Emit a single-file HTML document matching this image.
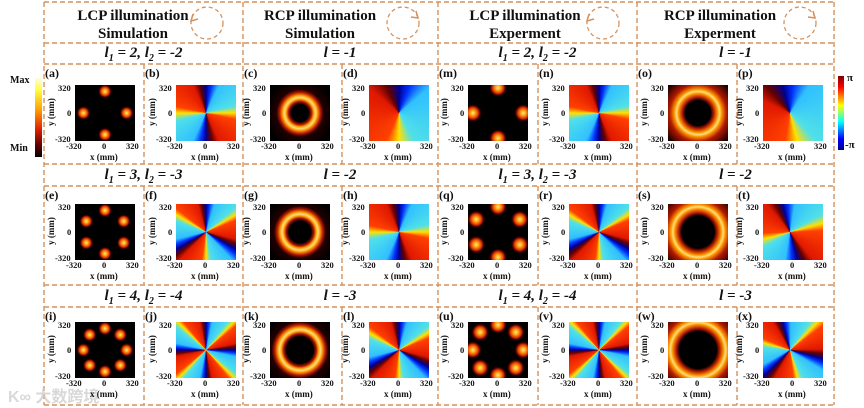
<!DOCTYPE html>
<html><head><meta charset="utf-8">
<style>
body{margin:0;background:#fff;}
#fig{position:relative;width:864px;height:408px;overflow:hidden;background:#fff;font-family:"Liberation Serif",serif;font-weight:bold;color:#111;}
.abs{position:absolute;}
.hdr{font-size:15px;text-align:center;line-height:18px;}
.lab{font-size:15px;text-align:center;font-style:italic;line-height:18px;}
.plab{font-size:12px;}
.tick{font-size:8.5px;}
.axt{font-size:9px;white-space:nowrap;}
.img{background:#000;}
</style></head><body>
<div id="fig">
<svg class="abs" style="left:0;top:0" width="864" height="408">
<g stroke="#d4925e" stroke-width="1.4" stroke-dasharray="5,3" fill="none">
<line x1="44" y1="2" x2="834" y2="2"/><line x1="44" y1="43" x2="834" y2="43"/>
<line x1="44" y1="64" x2="834" y2="64"/><line x1="44" y1="164" x2="834" y2="164"/>
<line x1="44" y1="186" x2="834" y2="186"/><line x1="44" y1="285" x2="834" y2="285"/>
<line x1="44" y1="307" x2="834" y2="307"/><line x1="44" y1="405" x2="834" y2="405"/>
<line x1="44" y1="2" x2="44" y2="405"/><line x1="243" y1="2" x2="243" y2="405"/>
<line x1="438" y1="2" x2="438" y2="405"/><line x1="637" y1="2" x2="637" y2="405"/>
<line x1="834" y1="2" x2="834" y2="405"/>
<line x1="144" y1="64" x2="144" y2="164"/><line x1="342" y1="64" x2="342" y2="164"/><line x1="538" y1="64" x2="538" y2="164"/><line x1="737" y1="64" x2="737" y2="164"/>
<line x1="144" y1="186" x2="144" y2="285"/><line x1="342" y1="186" x2="342" y2="285"/><line x1="538" y1="186" x2="538" y2="285"/><line x1="737" y1="186" x2="737" y2="285"/>
<line x1="144" y1="307" x2="144" y2="405"/><line x1="342" y1="307" x2="342" y2="405"/><line x1="538" y1="307" x2="538" y2="405"/><line x1="737" y1="307" x2="737" y2="405"/>
</g>
<g stroke="#d4925e" stroke-width="1.3" stroke-dasharray="4,3" fill="none">
<circle cx="207" cy="23" r="16"/><circle cx="403" cy="23" r="16"/>
<circle cx="603" cy="23" r="16"/><circle cx="800" cy="23" r="16"/>
</g>
<g stroke="#d4925e" stroke-width="1.5" fill="none">
<path d="M193 14 l-2 7 l7 -2"/><path d="M416 11 l2 7 l-7 -1"/>
<path d="M589 14 l-2 7 l7 -2"/><path d="M813 11 l2 7 l-7 -1"/>
</g>
</svg>
<div class="abs hdr" style="left:58px;top:7px;width:150px">LCP illumination<br>Simulation</div>
<div class="abs hdr" style="left:245px;top:7px;width:150px">RCP illumination<br>Simulation</div>
<div class="abs hdr" style="left:450px;top:7px;width:150px">LCP illumination<br>Experment</div>
<div class="abs hdr" style="left:645px;top:7px;width:150px">RCP illumination<br>Experment</div>

<div class="abs" style="left:35px;top:78px;width:7px;height:79px;background:linear-gradient(#fffbe0,#ffff40 15%,#ffa000 40%,#e02000 65%,#600000 85%,#000)"></div>
<div class="abs" style="left:10px;top:75px;font-size:10px">Max</div>
<div class="abs" style="left:10px;top:143px;font-size:10px">Min</div>
<div class="abs" style="left:838px;top:76px;width:6px;height:74px;background:linear-gradient(#800000,#ff0000 15%,#ffff00 40%,#00ffff 62%,#0000ff 85%,#00008f)"></div>
<div class="abs" style="left:847px;top:72px;font-size:11px">π</div>
<div class="abs" style="left:845px;top:139px;font-size:11px">-π</div>
<div class="abs" style="left:8px;top:383px;font-size:16px;color:rgba(200,200,200,0.7);font-family:'Liberation Sans','Noto Sans CJK SC',sans-serif">K∞ 大数跨境</div>
</div>
<script>
const rowLabels=[["l","1","= 2, ","l","2","= -2"],["l","1","= 3, ","l","2","= -3"],["l","1","= 4, ","l","2","= -4"]];
const rcpLabels=["-1","-2","-3"];
const letters=[["a","b","c","d","m","n","o","p"],["e","f","g","h","q","r","s","t"],["i","j","k","l","u","v","w","x"]];
const blobCounts=[4,6,8];
const simRing=[0.26,0.30,0.34];
const expRing=[0.36,0.42,0.46];
const phaseCharge=[2,3,4];
const rcpCharge=[1,2,3];
const colLeft=[44,144,243,342,438,538,637,737];
const imgOff=[31,32,27,27,30,31,31,26];
const rowTop=[64,186,307];
const imgTop=[85,204,322];
const fig=document.getElementById('fig');
const jet="#00008f 0%,#0030ff 6%,#30c0ff 14%,#50e0e8 42%,#ffe000 50%,#ff4000 57%,#e01800 86%,#600000 93%,#00008f 100%";
function blob(x,y,s){return `radial-gradient(circle ${s}px at ${x}px ${y}px, #ffe890 0, #ffa010 30%, #d83000 62%, rgba(110,0,0,0.6) 82%, rgba(0,0,0,0) 100%)`;}
function intensity(kind,r){
  const W=60,cx=30,cy=28;
  if(kind==='blobs'||kind==='eblobs'){
    const n=blobCounts[r];const gs=[];
    for(let k=0;k<n;k++){const a=-Math.PI/2+2*Math.PI*k/n;const rad=(kind==='eblobs'?0.42:0.36)*W;
      gs.push(blob(cx+rad*Math.cos(a),cy+rad*Math.sin(a),kind==='eblobs'?9:7));}
    return gs.join(',')+',#000';
  }
  const rr=(kind==='ring'?simRing[r]:expRing[r])*W;
  const hw=kind==='ring'?7:9;
  const inner=rr-hw,outer=rr+hw;
  return `radial-gradient(circle at ${cx}px ${cy}px, #000 ${inner}px, #b01800 ${inner+3}px, #ff9800 ${rr-2}px, #ffe080 ${rr}px, #ff9800 ${rr+2}px, #b01800 ${outer-2}px, #200000 ${outer+(kind==='ering'?8:1)}px, #000 ${outer+12}px)`;
}
function phase(n,dx,dy){return `repeating-conic-gradient(from ${dx*3}deg at ${50+dx}% ${50+dy}%, ${jet.replace(/(\d+)%/g,(m,p)=>(p*3.6/n).toFixed(1)+'deg')})`;}
function addText(txt,x,y,cls,name,extra){
  const d=document.createElement('div');d.className='abs '+cls;d.textContent=txt;
  d.style.left=x+'px';d.style.top=y+'px';if(extra)d.style.cssText+=extra;
  
  
  fig.appendChild(d);return d;}
for(let r=0;r<3;r++){
  const L=rowLabels[r];
  const lab=document.createElement('div');lab.className='abs lab';
  lab.style.cssText+=`left:44px;top:${rowTop[r]-20}px;width:199px;`;
  lab.innerHTML=`${L[0]}<sub style="font-size:10px">${L[1]}</sub> ${L[2]}${L[3]}<sub style="font-size:10px">${L[4]}</sub> ${L[5]}`;
  
  
  fig.appendChild(lab);
  const lab2=lab.cloneNode(true);lab2.style.left='438px';
  
  fig.appendChild(lab2);
  addText('l = '+rcpLabels[r],243,rowTop[r]-20,'lab','rcp-sim-row-label','width:194px');
  addText('l = '+rcpLabels[r],637,rowTop[r]-20,'lab','rcp-exp-row-label','width:197px');
  for(let c=0;c<8;c++){
    const x0=colLeft[c],ix=x0+imgOff[c],iy=imgTop[r];
    addText('('+letters[r][c]+')',x0+1,rowTop[r]+2,'plab','panel-label-'+letters[r][c]);
    const im=document.createElement('div');im.className='abs img';
    im.style.cssText+=`left:${ix}px;top:${iy}px;width:60px;height:56px;`;
    let bg;
    if(c===0)bg=intensity('blobs',r);
    else if(c===2)bg=intensity('ring',r);
    else if(c===4)bg=intensity('eblobs',r);
    else if(c===6)bg=intensity('ering',r);
    else if(c===1||c===5)bg=phase(phaseCharge[r],0,0);
    else bg=phase(rcpCharge[r],c===3?0:-5,0);
    im.style.background=bg;
    
    
    fig.appendChild(im);
    addText('320',ix-17,iy-2,'tick','y-tick-top');
    addText('0',ix-8,iy+23,'tick','y-tick-zero');
    addText('-320',ix-20,iy+49,'tick','y-tick-bottom');
    addText('-320',ix-9,iy+56,'tick','x-tick-left');
    addText('0',ix+27,iy+56,'tick','x-tick-zero');
    addText('320',ix+51,iy+56,'tick','x-tick-right');
    addText('x (mm)',ix+15,iy+67,'axt','x-axis-title');
    addText('y (mm)',ix-38,iy+22,'axt','y-axis-title','transform:rotate(-90deg);');
  }
}
</script>
</body></html>
